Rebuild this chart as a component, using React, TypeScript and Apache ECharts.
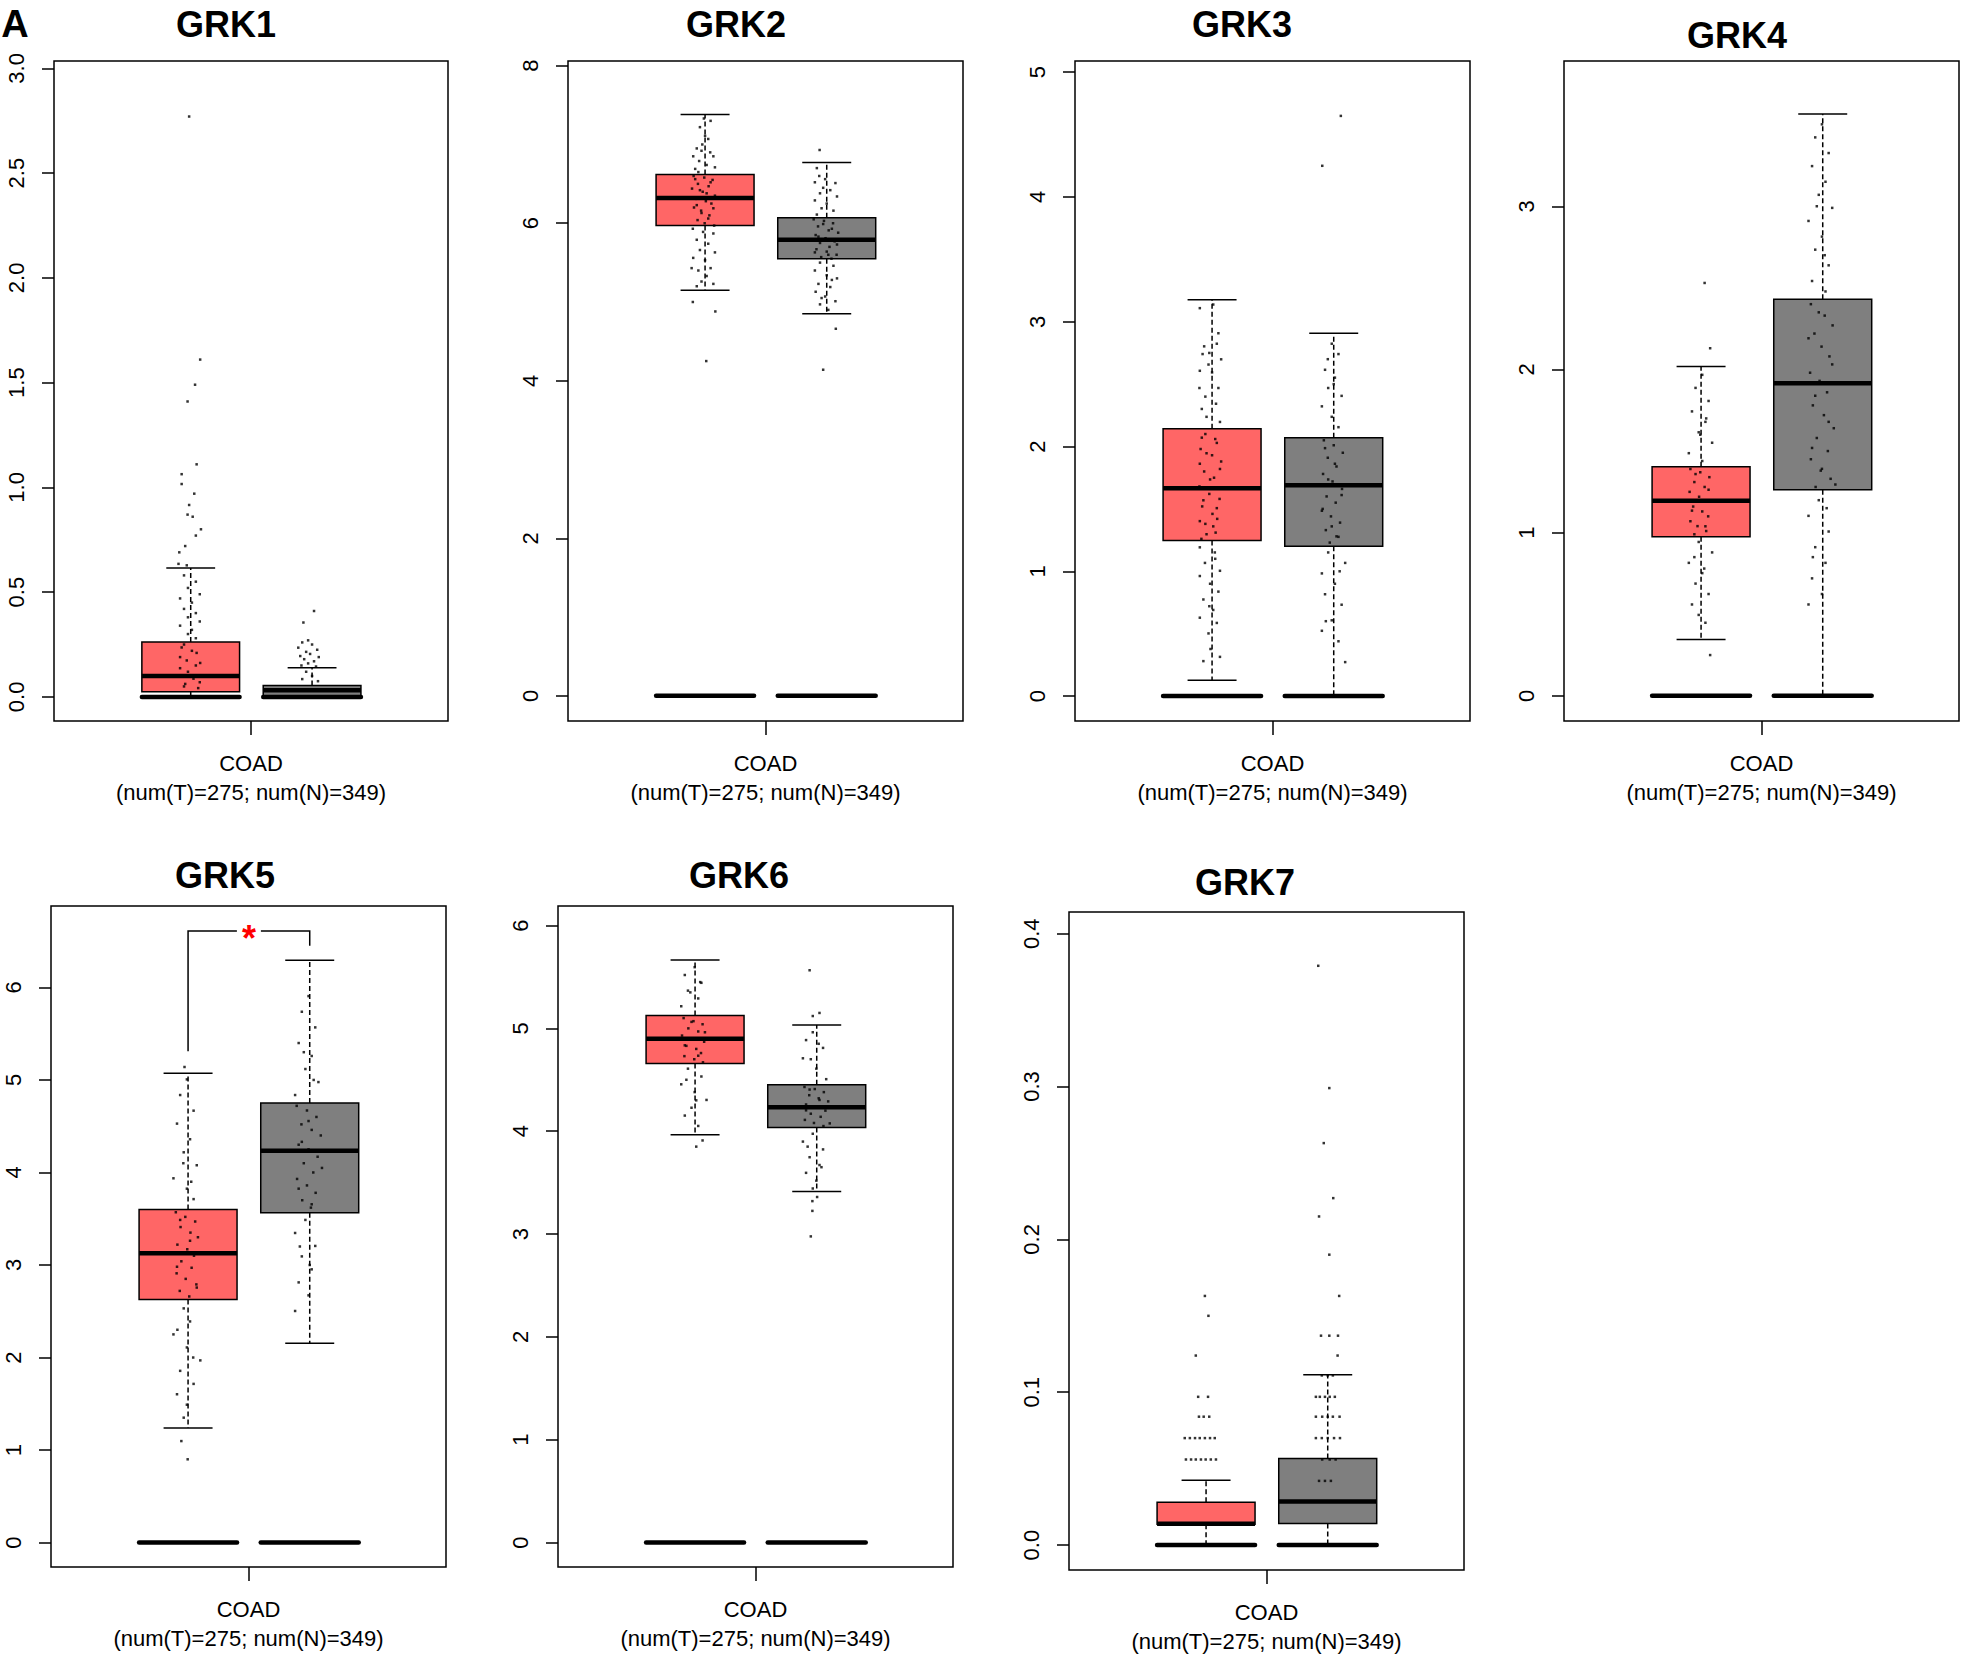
import React, { useEffect, useRef } from "react";
import * as echarts from "echarts";

const FONT = "'Liberation Sans', Arial, Helvetica, sans-serif";

// ---------- data ----------
const genes = ["GRK1", "GRK2", "GRK3", "GRK4", "GRK5", "GRK6", "GRK7"];
const groups = ["T", "N"];
const groupPos = [0.347, 0.655];
const groupColors = ["#FF6666", "#7F7F7F"];
const xCategory = "COAD";
const xSubLabel = "(num(T)=275; num(N)=349)";

// [lower whisker, Q1, median, Q3, upper whisker]
const tumorStats = [
  [0.0, 0.025, 0.1, 0.262, 0.615],
  [5.15, 5.97, 6.32, 6.62, 7.38],
  [0.126, 1.247, 1.665, 2.142, 3.176],
  [0.345, 0.975, 1.196, 1.404, 2.018],
  [1.237, 2.627, 3.127, 3.6, 5.073],
  [3.965, 4.658, 4.9, 5.124, 5.666],
  [0.0, 0.0136, 0.0139, 0.0281, 0.0424],
];
const normalStats = [
  [0.0, 0.0, 0.032, 0.055, 0.139],
  [4.85, 5.55, 5.79, 6.07, 6.77],
  [0.0, 1.201, 1.69, 2.071, 2.908],
  [0.0, 1.263, 1.916, 2.43, 3.566],
  [2.154, 3.566, 4.235, 4.752, 6.293],
  [3.413, 4.035, 4.233, 4.451, 5.033],
  [0.0, 0.0142, 0.0285, 0.0566, 0.1115],
];
const baselineValue = 0;

// jittered sample points: [x position, expression]
const tumorPoints = [
  [[0.343,2.77],[0.371,1.61],[0.358,1.49],[0.339,1.41],[0.362,1.11],[0.324,1.063],[0.324,1.016],[0.356,0.97],[0.343,0.916],[0.339,0.87],[0.352,0.86],[0.373,0.8],[0.36,0.77],[0.333,0.72],[0.318,0.69],[0.316,0.635],[0.337,0.628],[0.33,0.58],[0.36,0.55],[0.34,0.52],[0.37,0.49],[0.32,0.47],[0.35,0.45],[0.33,0.42],[0.36,0.4],[0.34,0.38],[0.37,0.36],[0.32,0.34],[0.35,0.32],[0.34,0.3],[0.36,0.28],[0.324,0.236],[0.362,0.21],[0.337,0.174],[0.371,0.162],[0.32,0.137],[0.354,0.087],[0.333,0.062],[0.366,0.042],[0.33,0.25],[0.35,0.22],[0.32,0.19],[0.36,0.15],[0.34,0.12],[0.37,0.07],[0.33,0.05]],
  [[0.35,4.25],[0.373,4.88],[0.316,5.0],[0.344,7.33],[0.361,7.3],[0.334,7.22],[0.347,7.11],[0.355,7.07],[0.326,6.95],[0.338,6.92],[0.317,6.85],[0.368,6.85],[0.332,6.79],[0.351,6.74],[0.372,6.71],[0.322,6.69],[0.322,6.56],[0.361,6.52],[0.334,6.42],[0.351,6.38],[0.326,6.23],[0.368,6.19],[0.338,6.13],[0.355,6.06],[0.316,5.93],[0.342,5.89],[0.368,5.87],[0.326,5.79],[0.355,5.74],[0.334,5.66],[0.372,5.63],[0.317,5.56],[0.347,5.53],[0.361,5.43],[0.33,5.4],[0.313,5.43],[0.351,5.33],[0.338,5.26],[0.368,5.23],[0.326,5.2],
   [0.318,6.6],[0.345,6.58],[0.366,6.55],[0.329,6.5],[0.356,6.47],[0.314,6.44],[0.341,6.4],[0.372,6.35],[0.324,6.31],[0.349,6.28],[0.363,6.25],[0.319,6.2],[0.337,6.16],[0.358,6.1],[0.328,6.04],[0.346,6.0],[0.37,5.97],[0.34,7.0],[0.36,6.9],[0.33,6.65]],
  [[0.316,3.109],[0.35,3.138],[0.363,2.908],[0.327,2.803],[0.359,2.824],[0.323,2.741],[0.338,2.657],[0.37,2.699],[0.316,2.607],[0.347,2.594],[0.315,2.469],[0.363,2.469],[0.321,2.301],[0.357,2.343],[0.333,2.238],[0.367,2.197],[0.321,2.071],[0.359,2.029],[0.333,1.946],[0.316,1.862],[0.367,1.82],[0.342,1.736],[0.325,1.569],[0.359,1.506],[0.316,1.402],[0.35,1.36],[0.333,1.297],[0.316,1.192],[0.354,1.151],[0.329,1.067],[0.367,1.004],[0.316,0.962],[0.342,0.9],[0.363,0.837],[0.325,0.774],[0.35,0.69],[0.316,0.628],[0.359,0.586],[0.338,0.502],[0.343,0.377],[0.367,0.314],[0.325,0.28],
   [0.33,2.1],[0.355,2.06],[0.318,1.98],[0.347,1.93],[0.37,1.88],[0.327,1.8],[0.352,1.75],[0.315,1.68],[0.34,1.62],[0.366,1.58],[0.322,1.52],[0.348,1.46],[0.36,1.42],[0.33,1.38],[0.356,1.31],[0.32,1.26],[0.34,2.75],[0.33,2.4],[0.355,1.1],[0.34,0.72]],
  [[0.356,2.53],[0.37,2.13],[0.37,0.25],[0.35,1.967],[0.333,1.887],[0.366,1.807],[0.324,1.743],[0.358,1.679],[0.341,1.615],[0.375,1.551],[0.316,1.487],[0.35,1.439],[0.333,1.359],[0.366,1.263],[0.324,1.135],[0.358,1.039],[0.341,0.943],[0.375,0.879],[0.316,0.815],[0.35,0.752],[0.333,0.688],[0.366,0.624],[0.324,0.56],[0.341,0.496],[0.358,0.448],
   [0.32,1.39],[0.345,1.37],[0.368,1.34],[0.33,1.31],[0.356,1.28],[0.318,1.25],[0.342,1.22],[0.372,1.19],[0.327,1.16],[0.35,1.13],[0.365,1.1],[0.32,1.07],[0.338,1.04],[0.36,1.01],[0.33,0.99],[0.345,1.6],[0.36,1.7],[0.33,0.85],[0.355,0.78]],
  [[0.33,1.097],[0.346,0.9],[0.338,5.14],[0.344,5.006],[0.327,4.837],[0.361,4.668],[0.319,4.528],[0.352,4.359],[0.336,4.218],[0.369,4.078],[0.31,3.937],[0.344,3.825],[0.361,3.712],[0.327,3.487],[0.352,3.262],[0.319,2.981],[0.369,2.756],[0.336,2.531],[0.352,2.39],[0.31,2.25],[0.344,2.109],[0.378,1.969],[0.327,1.856],[0.361,1.715],[0.319,1.603],[0.344,1.49],[0.336,1.35],
   [0.316,3.57],[0.34,3.52],[0.365,3.47],[0.328,3.41],[0.353,3.35],[0.372,3.3],[0.32,3.22],[0.345,3.17],[0.362,3.1],[0.33,3.04],[0.356,2.97],[0.318,2.91],[0.341,2.85],[0.368,2.79],[0.326,2.72],[0.35,2.66],[0.335,4.1],[0.355,3.9],[0.32,2.3],[0.36,2.0]],
  [[0.35,3.85],[0.366,3.91],[0.346,5.595],[0.321,5.519],[0.363,5.443],[0.329,5.367],[0.355,5.291],[0.312,5.215],[0.338,5.063],[0.372,4.962],[0.321,4.835],[0.355,4.734],[0.329,4.608],[0.363,4.532],[0.312,4.456],[0.346,4.38],[0.376,4.304],[0.338,4.228],[0.321,4.152],[0.355,4.051],
   [0.318,5.1],[0.343,5.07],[0.366,5.04],[0.33,5.0],[0.355,4.97],[0.314,4.93],[0.34,4.9],[0.37,4.87],[0.325,4.83],[0.35,4.8],[0.362,4.76],[0.32,4.73],[0.345,4.7],[0.367,4.67],[0.335,5.35],[0.36,5.45],[0.325,4.5],[0.35,4.3]],
  [[0.344,0.163],[0.353,0.15],[0.321,0.124],[0.327,0.097],[0.352,0.097],[0.329,0.084],[0.341,0.084],[0.355,0.084],[0.293,0.07],[0.306,0.07],[0.319,0.07],[0.331,0.07],[0.344,0.07],[0.357,0.07],[0.369,0.07],[0.296,0.056],[0.309,0.056],[0.321,0.056],[0.334,0.056],[0.346,0.056],[0.359,0.056],[0.372,0.056]],
];
const normalPoints = [
  [[0.66,0.41],[0.633,0.355],[0.645,0.27],[0.63,0.26],[0.655,0.25],[0.62,0.235],[0.668,0.225],[0.64,0.215],[0.65,0.205],[0.625,0.195],[0.672,0.19],[0.635,0.18],[0.66,0.17],[0.645,0.16],[0.628,0.15],[0.665,0.145],[0.64,0.12],[0.655,0.1],[0.63,0.085],[0.67,0.075]],
  [[0.637,6.93],[0.678,4.66],[0.646,4.14],[0.636,6.6],[0.651,6.56],[0.625,6.52],[0.677,6.51],[0.664,6.42],[0.638,6.38],[0.681,6.34],[0.625,6.29],[0.655,6.25],[0.642,6.19],[0.672,6.16],[0.63,6.11],[0.646,5.99],[0.668,5.93],[0.634,5.83],[0.681,5.73],[0.625,5.63],[0.659,5.6],[0.638,5.5],[0.672,5.46],[0.625,5.4],[0.655,5.34],[0.681,5.3],[0.634,5.23],[0.664,5.19],[0.627,5.13],[0.651,5.07],[0.677,5.01],[0.638,4.97],[0.659,4.9],
   [0.622,6.05],[0.648,6.03],[0.671,6.0],[0.633,5.96],[0.66,5.91],[0.684,5.88],[0.627,5.85],[0.652,5.81],[0.675,5.77],[0.638,5.75],[0.662,5.7],[0.629,5.67],[0.655,5.64],[0.68,5.6],[0.641,5.57],[0.667,5.55],[0.646,6.45],[0.63,6.7],[0.668,5.28],[0.642,5.05]],
  [[0.673,4.65],[0.626,4.25],[0.65,2.824],[0.667,2.741],[0.633,2.615],[0.658,2.552],[0.641,2.469],[0.675,2.406],[0.625,2.322],[0.65,2.238],[0.667,2.155],[0.633,1.987],[0.658,1.862],[0.641,1.736],[0.675,1.611],[0.625,1.485],[0.65,1.36],[0.667,1.276],[0.641,1.151],[0.684,1.067],[0.625,0.983],[0.658,0.9],[0.633,0.816],[0.675,0.732],[0.65,0.607],[0.625,0.523],[0.667,0.439],[0.684,0.272],
   [0.63,2.05],[0.655,2.01],[0.678,1.95],[0.64,1.91],[0.662,1.84],[0.628,1.78],[0.652,1.72],[0.676,1.66],[0.637,1.6],[0.66,1.55],[0.627,1.5],[0.648,1.44],[0.671,1.39],[0.635,1.33],[0.662,1.28],[0.645,1.23],[0.655,2.5],[0.64,2.7],[0.67,1.0],[0.635,0.6]],
  [[0.653,3.502],[0.636,3.422],[0.67,3.326],[0.628,3.246],[0.662,3.15],[0.645,3.07],[0.679,2.99],[0.619,2.91],[0.653,2.814],[0.636,2.734],[0.67,2.638],[0.628,2.542],[0.662,2.478],[0.645,2.35],[0.619,2.191],[0.679,2.031],[0.636,1.839],[0.67,1.679],[0.628,1.519],[0.653,1.391],[0.687,1.295],[0.645,1.199],[0.619,1.103],[0.67,1.007],[0.636,0.911],[0.662,0.815],[0.628,0.72],[0.653,0.624],[0.619,0.56],
   [0.625,2.4],[0.66,2.33],[0.68,2.27],[0.634,2.22],[0.652,2.14],[0.672,2.08],[0.623,1.98],[0.647,1.93],[0.666,1.86],[0.63,1.78],[0.658,1.72],[0.683,1.64],[0.64,1.58],[0.668,1.5],[0.625,1.45],[0.65,1.38],[0.675,1.33],[0.637,1.28],[0.66,2.7],[0.64,3.0],[0.665,1.15],[0.63,0.85]],
  [[0.652,5.906],[0.635,5.737],[0.669,5.568],[0.627,5.399],[0.66,5.259],[0.644,5.118],[0.677,4.977],[0.618,4.837],[0.652,4.556],[0.635,4.331],[0.686,4.049],[0.627,3.825],[0.66,3.656],[0.644,3.487],[0.618,3.346],[0.669,3.206],[0.635,3.093],[0.66,2.953],[0.627,2.812],[0.652,2.672],[0.618,2.503],
   [0.622,4.72],[0.648,4.67],[0.672,4.6],[0.634,4.52],[0.66,4.46],[0.683,4.4],[0.627,4.3],[0.652,4.25],[0.675,4.17],[0.64,4.1],[0.664,4.0],[0.623,3.93],[0.648,3.86],[0.67,3.78],[0.636,3.7],[0.658,3.62],[0.64,5.3],[0.665,5.0],[0.63,3.2],[0.655,3.0]],
  [[0.637,5.565],[0.662,5.15],[0.645,5.12],[0.656,3.36],[0.644,3.32],[0.644,3.225],[0.64,2.977],[0.645,4.962],[0.628,4.886],[0.671,4.81],[0.62,4.709],[0.654,4.608],[0.679,4.506],[0.637,4.405],[0.662,4.304],[0.628,4.203],[0.688,4.076],[0.645,3.975],[0.62,3.899],[0.671,3.823],[0.637,3.747],[0.662,3.671],[0.628,3.595],[0.654,3.519],[0.645,3.443],
   [0.624,4.43],[0.65,4.41],[0.673,4.38],[0.636,4.35],[0.66,4.32],[0.684,4.29],[0.628,4.26],[0.652,4.23],[0.677,4.2],[0.64,4.17],[0.665,4.14],[0.625,4.11],[0.648,4.08],[0.672,4.05],[0.64,4.7],[0.66,4.85],[0.632,3.85],[0.667,3.65]],
  [[0.631,0.379],[0.659,0.299],[0.645,0.263],[0.669,0.227],[0.633,0.215],[0.659,0.19],[0.684,0.163],[0.638,0.137],[0.659,0.137],[0.681,0.137],[0.68,0.124],[0.64,0.111],[0.655,0.111],[0.668,0.111],[0.625,0.097],[0.635,0.097],[0.648,0.097],[0.66,0.097],[0.673,0.097],[0.625,0.084],[0.641,0.084],[0.655,0.084],[0.668,0.084],[0.685,0.084],[0.625,0.07],[0.64,0.07],[0.655,0.07],[0.671,0.07],[0.686,0.07],[0.641,0.056],[0.66,0.056],[0.675,0.056],[0.633,0.042],[0.648,0.042],[0.663,0.042]],
];

// axis ranges and tick labels
const yMin = [-0.115, -0.32, -0.2, -0.154, -0.264, -0.238, -0.0163];
const yMax = [3.035, 8.06, 5.09, 3.89, 6.88, 6.19, 0.4142];
const yTicks = [
  [0, 0.5, 1, 1.5, 2, 2.5, 3],
  [0, 2, 4, 6, 8],
  [0, 1, 2, 3, 4, 5],
  [0, 1, 2, 3],
  [0, 1, 2, 3, 4, 5, 6],
  [0, 1, 2, 3, 4, 5, 6],
  [0, 0.1, 0.2, 0.3, 0.4],
];
const yDecimals = [1, 0, 0, 0, 0, 0, 1];

// significance bracket for GRK5: [T bottom, top, N bottom], label
const sigPanel = 4;
const sigBracket = [5.31, 6.61, 6.45];
const sigLabel = "*";

// ---------- layout ----------
const panelRects = [
  [54, 61, 394, 660],
  [568, 61, 395, 660],
  [1075, 61, 395, 660],
  [1564, 61, 395, 660],
  [51, 906, 395, 661],
  [558, 906, 395, 661],
  [1069, 912, 395, 661],
];
const titleCenters = [
  [226, 24], [736, 24], [1242, 24], [1737, 35],
  [225, 875], [739, 875], [1245, 882],
];
const BOX_HALF = 0.124;
const CAP_HALF = 0.062;

const renderBox = (params: any, api: any) => {
  const pos = api.value(0);
  const lo = api.value(1), q1 = api.value(2), med = api.value(3), q3 = api.value(4), hi = api.value(5);
  const ci = api.value(6);
  const [xl, yq3] = api.coord([pos - BOX_HALF, q3]);
  const [xr, yq1] = api.coord([pos + BOX_HALF, q1]);
  const [xc, ymed] = api.coord([pos, med]);
  const yhi = api.coord([pos, hi])[1];
  const ylo = api.coord([pos, lo])[1];
  const cl = api.coord([pos - CAP_HALF, hi])[0];
  const cr = api.coord([pos + CAP_HALF, hi])[0];
  const dash = { stroke: "#000", lineWidth: 1.5, lineDash: [5, 3], fill: null };
  const solid = { stroke: "#000", lineWidth: 1.5, fill: null };
  return {
    type: "group",
    children: [
      { type: "line", shape: { x1: xc, y1: yq3, x2: xc, y2: yhi }, style: dash },
      { type: "line", shape: { x1: xc, y1: yq1, x2: xc, y2: ylo }, style: dash },
      { type: "line", shape: { x1: cl, y1: yhi, x2: cr, y2: yhi }, style: solid },
      { type: "line", shape: { x1: cl, y1: ylo, x2: cr, y2: ylo }, style: solid },
      {
        type: "rect",
        shape: { x: xl, y: yq3, width: xr - xl, height: yq1 - yq3 },
        style: { fill: groupColors[ci], stroke: "#000", lineWidth: 1.5 },
      },
      { type: "line", shape: { x1: xl, y1: ymed, x2: xr, y2: ymed }, style: { stroke: "#000", lineWidth: 4.5, fill: null } },
    ],
  };
};

const renderBaseline = (params: any, api: any) => {
  const pos = api.value(0);
  const [x1, y] = api.coord([pos - BOX_HALF, api.value(1)]);
  const x2 = api.coord([pos + BOX_HALF, api.value(1)])[0];
  return {
    type: "line",
    shape: { x1, y1: y, x2, y2: y },
    style: { stroke: "#000", lineWidth: 4.5, lineCap: "round", fill: null },
  };
};

const renderBracket = (params: any, api: any) => {
  const pT = api.value(0), pN = api.value(1);
  const [xT, yLB] = api.coord([pT, api.value(2)]);
  const yTop = api.coord([pT, api.value(3)])[1];
  const [xN, yRB] = api.coord([pN, api.value(4)]);
  const xMid = (xT + xN) / 2;
  const st = { stroke: "#000", lineWidth: 1.5, fill: null };
  return {
    type: "group",
    children: [
      { type: "polyline", shape: { points: [[xT, yLB], [xT, yTop], [xMid - 12, yTop]] }, style: st },
      { type: "polyline", shape: { points: [[xMid + 12, yTop], [xN, yTop], [xN, yRB]] }, style: st },
      {
        type: "text",
        x: xMid,
        y: yTop + 8,
        style: {
          text: sigLabel,
          fill: "#FF0000",
          font: `bold 36px ${FONT}`,
          align: "center",
          verticalAlign: "middle",
          textAlign: "center",
          textVerticalAlign: "middle",
        },
      },
    ],
  };
};

function buildOption() {
  const grid: any[] = [];
  const xAxis: any[] = [];
  const yAxis: any[] = [];
  const series: any[] = [];
  const graphic: any[] = [];

  genes.forEach((g, i) => {
    const [l, t, w, h] = panelRects[i];
    grid.push({ left: l, top: t, width: w, height: h, show: true, borderColor: "#000", borderWidth: 1.5, backgroundColor: "transparent", containLabel: false });
    xAxis.push({
      type: "value",
      gridIndex: i,
      position: "bottom",
      min: 0,
      max: 1,
      splitLine: { show: false },
      axisLine: { show: false, onZero: false },
      axisTick: { show: true, customValues: [0.5], length: 14, inside: false, lineStyle: { color: "#000", width: 1.5 } },
      axisLabel: {
        show: true,
        customValues: [0.5],
        formatter: () => `${xCategory}\n${xSubLabel}`,
        margin: 28,
        fontSize: 22,
        lineHeight: 29,
        color: "#000",
        fontFamily: FONT,
      },
    });
    yAxis.push({
      type: "value",
      gridIndex: i,
      position: "left",
      min: yMin[i],
      max: yMax[i],
      splitLine: { show: false },
      axisLine: { show: false, onZero: false },
      axisTick: { show: true, customValues: yTicks[i], length: 12, inside: false, lineStyle: { color: "#000", width: 1.5 } },
      axisLabel: {
        show: true,
        customValues: yTicks[i],
        rotate: 90,
        margin: 27,
        fontSize: 22,
        color: "#000",
        fontFamily: FONT,
        formatter: (v: number) => v.toFixed(yDecimals[i]),
      },
    });
    series.push({
      type: "custom",
      name: `${g} box`,
      xAxisIndex: i,
      yAxisIndex: i,
      renderItem: renderBox,
      encode: { x: 0, y: [1, 2, 3, 4, 5] },
      data: [
        [groupPos[0], ...tumorStats[i], 0],
        [groupPos[1], ...normalStats[i], 1],
      ],
      z: 2,
    });
    series.push({
      type: "custom",
      name: `${g} baseline`,
      xAxisIndex: i,
      yAxisIndex: i,
      renderItem: renderBaseline,
      encode: { x: 0, y: 1 },
      data: groups.map((_, k) => [groupPos[k], baselineValue]),
      z: 3,
    });
    series.push({
      type: "scatter",
      name: `${g} samples`,
      xAxisIndex: i,
      yAxisIndex: i,
      symbol: "rect",
      symbolSize: 2.5,
      itemStyle: { color: "#000" },
      data: [...tumorPoints[i], ...normalPoints[i]],
      z: 4,
      silent: true,
    });
    graphic.push({
      type: "text",
      x: titleCenters[i][0],
      y: titleCenters[i][1],
      style: {
        text: g,
        fill: "#000",
        font: `bold 36px ${FONT}`,
        align: "center",
        verticalAlign: "middle",
        textAlign: "center",
        textVerticalAlign: "middle",
      },
    });
  });

  series.push({
    type: "custom",
    name: "significance",
    xAxisIndex: sigPanel,
    yAxisIndex: sigPanel,
    renderItem: renderBracket,
    encode: { x: [0, 1], y: [2, 3, 4] },
    data: [[groupPos[0], groupPos[1], ...sigBracket]],
    z: 5,
  });

  graphic.push({
    type: "text",
    x: 15,
    y: 24,
    style: {
      text: "A",
      fill: "#000",
      font: `bold 38px ${FONT}`,
      align: "center",
      verticalAlign: "middle",
      textAlign: "center",
      textVerticalAlign: "middle",
    },
  });

  return {
    animation: false,
    backgroundColor: "#fff",
    grid,
    xAxis,
    yAxis,
    series,
    graphic,
  };
}

export default function App() {
  const ref = useRef<HTMLDivElement>(null);
  useEffect(() => {
    if (!ref.current) return;
    const chart = echarts.init(ref.current, null, { renderer: "svg" });
    chart.setOption(buildOption() as any);
    return () => chart.dispose();
  }, []);
  return (
    <div
      ref={ref}
      style={{ position: "absolute", left: 0, top: 0, width: 1967, height: 1656, background: "#fff" }}
    />
  );
}
